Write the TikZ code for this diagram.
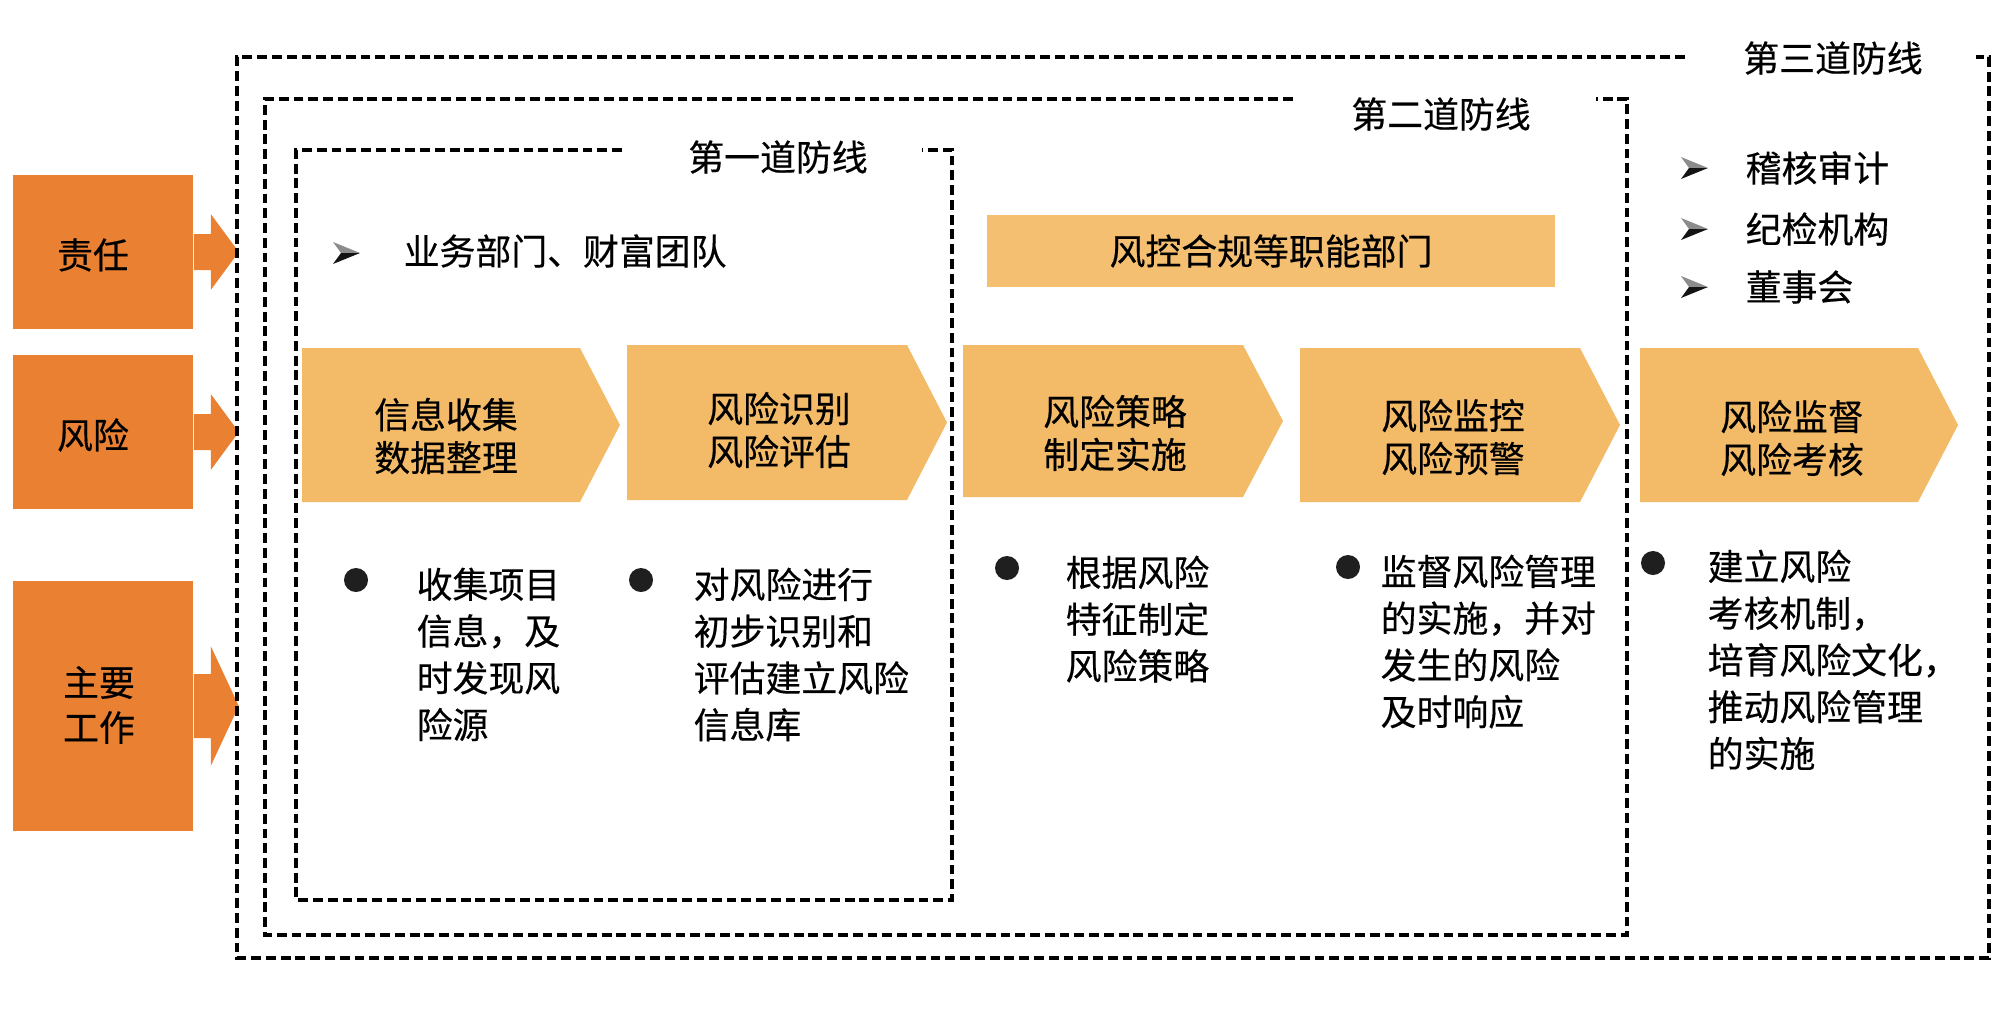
\documentclass[tikz,border=0pt]{standalone}
\usepackage{fontspec}
\newfontfamily\cjkf[FakeBold=0.4]{Noto Sans CJK SC}
\definecolor{lorange}{RGB}{234,128,50}
\definecolor{chevc}{RGB}{243,187,104}
\definecolor{barc}{RGB}{244,191,112}
\newcommand\mychev[4]{%
  \fill[chevc] (#1,#2) -- ({#3-40},#2) -- (#3,{(#2+#4)/2}) -- ({#3-40},#4) -- (#1,#4) -- cycle;}
\begin{document}
\begin{tikzpicture}[x=0.01cm,y=-0.01cm,
  lbox/.style={fill=lorange, inner sep=0, minimum width=1.80cm},
  ltxt/.style={font=\cjkf\fontsize{10.2pt}{12.8pt}\selectfont, inner sep=0, align=center},
  ctext/.style={font=\cjkf\fontsize{10.2pt}{12.2pt}\selectfont, align=center, inner sep=0},
  btext/.style={font=\cjkf\fontsize{10.2pt}{13.3pt}\selectfont, align=left, inner sep=0, anchor=north west},
  stxt/.style={font=\cjkf\fontsize{10.2pt}{12pt}\selectfont, inner sep=0},
  dline/.style={draw=black, line width=1.1pt, dash pattern=on 2.8pt off 1.4pt},
  bdot/.style={circle, fill=black!88, inner sep=0, minimum size=0.24cm},
  dart/.pic={\fill[black!45] (-14,-11) -- (13,0) -- (-6,0) -- cycle;
             \fill[black!92] (-14,11) -- (13,0) -- (-6,0) -- cycle;}
]
\fill[white] (0,0) rectangle (2000,1009);
\useasboundingbox (0,0) rectangle (2000,1009);

% left category boxes
\node[lbox, minimum height=1.54cm] (r1) at (103,252) {};
\node[lbox, minimum height=1.54cm] (r2) at (103,432) {};
\node[lbox, minimum height=2.50cm] (r3) at (103,706) {};
\fill[lorange] (r1.east) ++(0,-18) -- ++(17,0) -- ++(0,-20) -- ++(28,38) -- ++(-28,38) -- ++(0,-20) -- ++(-17,0) -- cycle;
\fill[lorange] (r2.east) ++(0,-18) -- ++(17,0) -- ++(0,-20) -- ++(28,38) -- ++(-28,38) -- ++(0,-20) -- ++(-17,0) -- cycle;
\fill[lorange] (r3.east) ++(0,-32) -- ++(17,0) -- ++(0,-28) -- ++(28,60) -- ++(-28,60) -- ++(0,-28) -- ++(-17,0) -- cycle;
\node[ltxt] (r1t) at (93,255) {责任};
\node[ltxt] (r2t) at (93,435) {风险};
\node[ltxt] (r3t) at (99,705) {主要\\工作};

% chevrons
\mychev{302}{348}{620}{502}
\mychev{627}{345}{947}{500}
\mychev{963}{345}{1283}{497}
\mychev{1300}{348}{1620}{502}
\mychev{1640}{348}{1958}{502}
\node[ctext] (c1) at (446,436) {信息收集\\数据整理};
\node[ctext] (c2) at (779,430) {风险识别\\风险评估};
\node[ctext] (c3) at (1115,433) {风险策略\\制定实施};
\node[ctext] (c4) at (1453,437) {风险监控\\风险预警};
\node[ctext] (c5) at (1792,438) {风险监督\\风险考核};

% bar
\node[fill=barc, minimum width=5.67cm, minimum height=0.72cm, stxt] (bar) at (1271,251) {风控合规等职能部门};

% dashed defence lines
\draw[dline] (622,150) -- (296,150) -- (296,900) -- (952,900) -- (952,150) -- (922,150);
\draw[dline] (1293,99) -- (265,99) -- (265,935) -- (1627,935) -- (1627,99) -- (1596,99);
\draw[dline] (1685,57) -- (237,57) -- (237,958) -- (1989,958) -- (1989,57) -- (1976,57);
\node[stxt] (l1) at (778,157) {第一道防线};
\node[stxt] (l2) at (1441,114) {第二道防线};
\node[stxt] (l3) at (1833,58) {第三道防线};

% arrow bullets
\pic at (347,253) {dart};
\node[stxt, anchor=west] (t0) at (403,251) {业务部门、财富团队};
\pic at (1695,168) {dart};
\pic at (1695,229) {dart};
\pic at (1695,287) {dart};
\node[stxt, anchor=west] (t1) at (1745,168) {稽核审计};
\node[stxt, anchor=west] (t2) at (1745,229) {纪检机构};
\node[stxt, anchor=west] (t3) at (1745,287) {董事会};

% main work bullets
\node[bdot] (d1) at (356,580) {};
\node[btext] (b1) at (416,567) {收集项目\\信息，及\\时发现风\\险源};
\node[bdot] (d2) at (641,580) {};
\node[btext] (b2) at (693,567) {对风险进行\\初步识别和\\评估建立风险\\信息库};
\node[bdot] (d3) at (1007,568) {};
\node[btext] (b3) at (1065,555) {根据风险\\特征制定\\风险策略};
\node[bdot] (d4) at (1348,567) {};
\node[btext] (b4) at (1380,554) {监督风险管理\\的实施，并对\\发生的风险\\及时响应};
\node[bdot] (d5) at (1653,563) {};
\node[btext] (b5) at (1707,549) {建立风险\\考核机制，\\培育风险文化，\\推动风险管理\\的实施};
\end{tikzpicture}
\end{document}
